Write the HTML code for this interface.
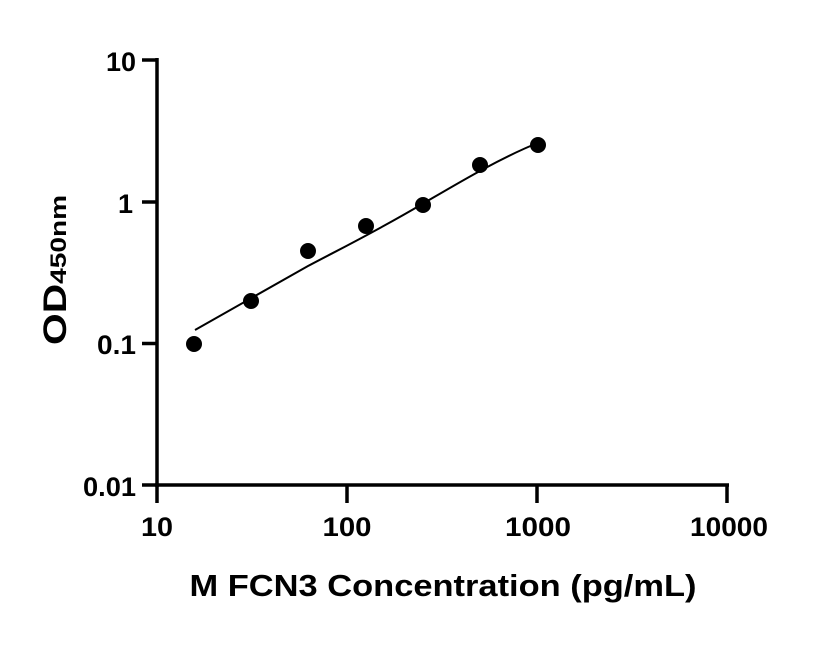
<!DOCTYPE html>
<html><head><meta charset="utf-8"><style>body{margin:0;background:#fff}</style></head>
<body>
<svg width="816" height="640" xmlns="http://www.w3.org/2000/svg" font-family="Liberation Sans, sans-serif" font-weight="bold">
<g stroke="#000" stroke-width="3.5" fill="none">
<line x1="157" y1="58" x2="157" y2="487"/>
<line x1="155" y1="485" x2="729" y2="485"/>
<line x1="142" y1="60" x2="157" y2="60"/>
<line x1="142" y1="202" x2="157" y2="202"/>
<line x1="142" y1="343.5" x2="157" y2="343.5"/>
<line x1="142" y1="485" x2="157" y2="485"/>
<line x1="157" y1="485" x2="157" y2="503"/>
<line x1="347" y1="485" x2="347" y2="503"/>
<line x1="537" y1="485" x2="537" y2="503"/>
<line x1="727" y1="485" x2="727" y2="503"/>
</g>
<g font-size="27" text-anchor="end">
<text x="136" y="71" textLength="30" lengthAdjust="spacingAndGlyphs">10</text>
<text x="133" y="213">1</text>
<text x="136" y="354" textLength="39" lengthAdjust="spacingAndGlyphs">0.1</text>
<text x="136" y="496" textLength="53" lengthAdjust="spacingAndGlyphs">0.01</text>
</g>
<g font-size="27" text-anchor="middle">
<text x="157" y="536" textLength="32" lengthAdjust="spacingAndGlyphs">10</text>
<text x="347" y="536" textLength="49" lengthAdjust="spacingAndGlyphs">100</text>
<text x="538" y="536" textLength="66" lengthAdjust="spacingAndGlyphs">1000</text>
<text x="729" y="536" textLength="78" lengthAdjust="spacingAndGlyphs">10000</text>
</g>
<text x="443" y="596" font-size="31" text-anchor="middle" textLength="507" lengthAdjust="spacingAndGlyphs">M FCN3 Concentration (pg/mL)</text>
<text transform="translate(66,270) rotate(-90)" font-size="32" text-anchor="middle" textLength="150" lengthAdjust="spacingAndGlyphs">OD<tspan font-size="22">450nm</tspan></text>
<path d="M195,330 C230,310 265,290 308,266 C340,249 375,232 424,203 C460,182 500,158 540,142" stroke="#000" stroke-width="2" fill="none"/>
<g fill="#000">
<circle cx="194" cy="344" r="8"/>
<circle cx="251" cy="301" r="8"/>
<circle cx="308" cy="251" r="8"/>
<circle cx="366" cy="226" r="8"/>
<circle cx="423" cy="205" r="8"/>
<circle cx="480" cy="165" r="8"/>
<circle cx="538" cy="145" r="8"/>
</g>
</svg>
</body></html>
